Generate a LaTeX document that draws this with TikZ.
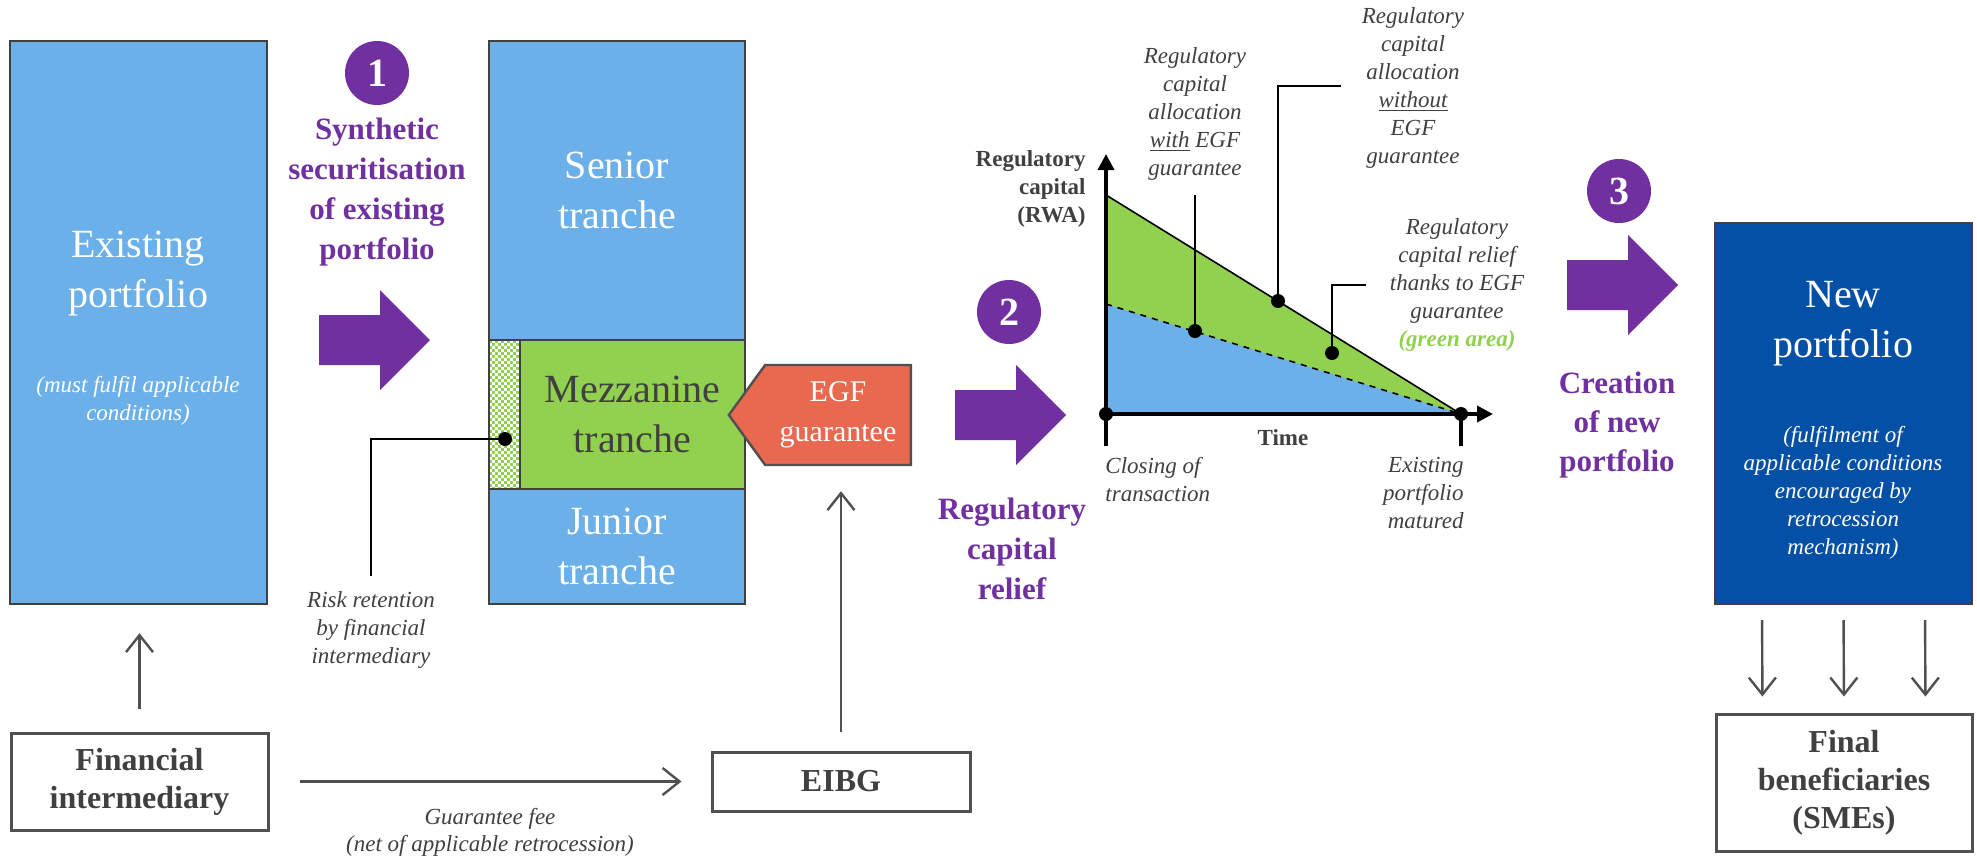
\documentclass[tikz,border=0pt]{standalone}
\usepackage{fontspec}
\setmainfont{Liberation Serif}
\newfontfamily\numfont{Liberation Serif}
\usetikzlibrary{arrows.meta}
\usetikzlibrary{shapes.symbols}

\definecolor{tranchblue}{RGB}{108,176,234}
\definecolor{mezzgreen}{RGB}{146,208,80}
\definecolor{egfred}{RGB}{232,105,80}
\definecolor{steppurple}{RGB}{112,48,160}
\definecolor{newblue}{RGB}{4,80,166}
\definecolor{darktext}{RGB}{64,64,64}
\definecolor{linegray}{RGB}{80,80,80}

\begin{document}
\begin{tikzpicture}
[x=0.5pt,y=-0.5pt
,blk/.style={rectangle,draw=darktext,line width=1.2pt,inner sep=0pt}
,pf/.style={blk,fill=tranchblue}
,bigtxt/.style={font=\fontsize{20}{25}\selectfont,align=center,inner sep=0pt}
,note/.style={font=\fontsize{11.5}{14}\selectfont\itshape,text=darktext,align=center,inner sep=0pt}
,charttxt/.style={font=\fontsize{11.5}{14}\selectfont\bfseries,text=darktext,inner sep=0pt}
,actor/.style={rectangle,draw=linegray,line width=1.5pt,fill=white,font=\fontsize{16}{19}\selectfont\bfseries,text=darktext,align=center,inner sep=0pt}
,stepnum/.style={circle,fill=steppurple,minimum size=32pt,inner sep=0pt,text=white,font=\numfont\fontsize{20}{20}\selectfont\bfseries}
,steptxt/.style={text=steppurple,font=\fontsize{15.5}{20}\selectfont\bfseries,align=center,inner sep=0pt}
,flow/.style={draw=linegray,line width=1.2pt,arrows={-Straight Barb[length=8.5pt,width=13.5pt]}}
,lead/.style={draw=black,line width=1pt}
,blob/.style={circle,fill=black,inner sep=0pt,minimum size=7pt}
,chartaxis/.style={line width=1.8pt,arrows={-Triangle[length=8pt,width=8pt]}}
,bigarrow/.pic={\fill[steppurple] (0,-25) -- (61,-25) -- (61,-50) -- (111,0) -- (61,50) -- (61,25) -- (0,25) -- cycle;}
]
\path[use as bounding box,fill=white] (0,0) rectangle (1977,857);

\node[pf,minimum width=128.5pt,minimum height=281.5pt] (exist) at (138.5,322.5) {};
\node[bigtxt,text=white] (existtxt) at (138,274) {Existing\\portfolio};
\node[note,text=white] (existcond) at (138,401) {(must fulfil applicable\\conditions)};

\node[stepnum] (s1) at (377,73) {1};
\node[steptxt] (s1txt) at (377,192) {Synthetic\\securitisation\\of existing\\portfolio};
\pic at (319,340) {bigarrow};

\node[pf,bigtxt,text=white,minimum width=128pt,minimum height=149.5pt] (senior) at (617,190.5) {Senior\\tranche};
\node[blk,fill=mezzgreen,bigtxt,text=darktext,minimum width=112.5pt,minimum height=74.5pt] (mezz) at (632.5,414.5) {Mezzanine\\tranche};
\node[blk,fill=white,minimum width=15.5pt,minimum height=74.5pt] (retain) at (504.5,414.5) {};
\begin{scope}
\clip (retain.south west) rectangle (retain.north east);
\foreach \r in {0,...,49}
  \draw[mezzgreen,line width=1.5pt,dash pattern=on 1.5pt off 1.5pt,dash phase={mod(\r,2)*1.5pt}] (489,340+\r*3+1.5) -- (521,340+\r*3+1.5);
\end{scope}
\node[blk,minimum width=15.5pt,minimum height=74.5pt] (retainbox) at (retain) {};
\node[pf,bigtxt,text=white,minimum width=128pt,minimum height=57.5pt] (junior) at (617,546.5) {Junior\\tranche};

\node[signal,signal to=west,signal pointer angle=108,fill=egfred,draw=linegray,line width=1.2pt,minimum width=91pt,minimum height=50pt,inner sep=0pt,text=white,font=\fontsize{15}{20}\selectfont,align=center] (egf) at (838,415) {EGF\\guarantee};

\node[blob] (rdot) at (505,439) {};
\node[note] (risktxt) at (371,630) {Risk retention\\by financial\\intermediary};
\draw[lead] (rdot.center) -| ([yshift=7.5pt]risktxt.north);

\node[actor,minimum width=128.5pt,minimum height=48.5pt] (fi) at (139.5,781.5) {Financial\\intermediary};
\node[actor,minimum width=129pt,minimum height=29.5pt] (eibg) at (841,781.5) {EIBG};
\draw[flow,shorten <=11.5pt,shorten >=14pt] (fi.north) -- (fi.north |- exist.south);
\draw[flow,shorten <=15pt,shorten >=14.5pt] (fi) -- node[note,font=\fontsize{11.5}{13.5}\selectfont\itshape,below=13pt] (fee) {Guarantee fee\\(net of applicable retrocession)} (eibg);
\draw[flow,shorten <=9.5pt,shorten >=12.5pt] (eibg.north) -- (eibg.north |- egf.south);

\node[stepnum] (s2) at (1009,312) {2};
\pic at (955,415) {bigarrow};
\node[steptxt] (s2txt) at (1012,549) {Regulatory\\capital\\relief};

\coordinate (o) at (1106,414);
\coordinate (mat) at (1461,414);
\coordinate (top) at (1106,195);
\coordinate (mid) at (1106,304);
\coordinate (ytip) at (1106,154);
\coordinate (xtip) at (1493,414);
\fill[mezzgreen] (top) -- (mat) -- (o) -- cycle;
\fill[tranchblue] (mid) -- (mat) -- (o) -- cycle;
\draw[line width=0.8pt] (top) -- (mat);
\draw[line width=0.8pt,dashed] (mid) -- (mat);
\draw[chartaxis] (o) ++(0,32) -- (ytip);
\draw[chartaxis] (o) -- (xtip);
\draw[line width=1.8pt] (mat) -- ++(0,32);
\node[blob] (odot) at (o) {};
\node[blob] (mdot) at (mat) {};
\node[charttxt,anchor=east,align=right] (ylab) at (1086,188.5) {Regulatory\\capital\\(RWA)};
\node[charttxt] (tlab) at (1283,438) {Time};
\node[note,anchor=west,align=left] (closing) at (1105,479.5) {Closing of\\transaction};
\node[note,anchor=east,align=right] (matured) at (1464,493) {Existing\\portfolio\\matured};

\node[note] (withtxt) at (1195,114) {Regulatory\\capital\\allocation\\\underline{with} EGF\\guarantee};
\node[blob] (withdot) at (1195,331) {};
\draw[lead] (withdot.center) -- ([yshift=-7pt]withtxt.south);

\node[note] (wotxt) at (1413,88) {Regulatory\\capital\\allocation\\\underline{without}\\EGF\\guarantee};
\node[blob] (wodot) at (1278,301) {};
\coordinate (wobend) at (1341,86);
\draw[lead] (wodot.center) |- (wobend);

\node[note] (relieftxt) at (1457,284.5) {Regulatory\\capital relief\\thanks to EGF\\guarantee\\\textbf{\color{mezzgreen}(green area)}};
\node[blob] (reliefdot) at (1332,353) {};
\coordinate (reliefend) at (1366,285);
\draw[lead] (reliefdot.center) |- (reliefend);

\node[stepnum] (s3) at (1619,191) {3};
\pic at (1567,285) {bigarrow};
\node[steptxt,font=\fontsize{15.5}{19.5}\selectfont\bfseries] (s3txt) at (1617,425) {Creation\\of new\\portfolio};

\node[blk,fill=newblue,minimum width=128.5pt,minimum height=190.5pt] (newpf) at (1843.5,413.5) {};
\node[bigtxt,text=white] (newtxt) at (1843,323.5) {New\\portfolio};
\node[note,text=white] (newcond) at (1843,492.5) {(fulfilment of\\applicable conditions\\encouraged by\\retrocession\\mechanism)};

\node[actor,minimum width=128pt,minimum height=68.5pt] (final) at (1844,782.5) {Final\\beneficiaries\\(SMEs)};
\foreach \dx in {-81.5,0,81.5}
  \draw[flow,shorten <=7.5pt,shorten >=8pt] ([xshift=\dx*0.5pt]newpf.south) -- ([xshift=\dx*0.5pt]final.north);
\end{tikzpicture}
\end{document}
